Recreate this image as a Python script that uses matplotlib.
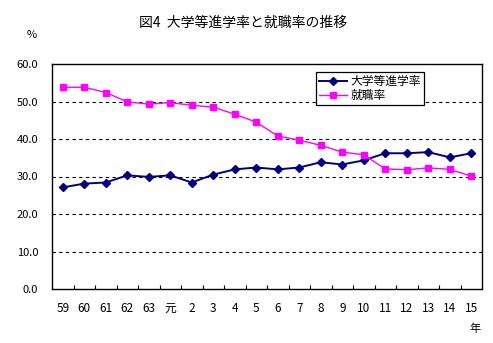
"""
図4 大学等進学率と就職率の推移 — line chart, two series, Excel-style look.
"""

import matplotlib
matplotlib.use('Agg')
import matplotlib.pyplot as plt
from matplotlib.ticker import FixedLocator

plt.rcParams['font.family'] = ['Noto Sans CJK JP', 'DejaVu Sans']

C_NAVY = '#000080'
C_MAGENTA = '#FF00FF'

# ── Data ────────────────────────────────────────────────────────────────────
years = ['59', '60', '61', '62', '63', '元', '2', '3', '4', '5',
         '6', '7', '8', '9', '10', '11', '12', '13', '14', '15']
shingaku = [27.1, 28.1, 28.4, 30.3, 29.9, 30.3, 28.4, 30.5, 31.9, 32.4,
            31.9, 32.4, 33.8, 33.2, 34.3, 36.2, 36.2, 36.5, 35.1, 36.2]
shushoku = [53.8, 53.8, 52.4, 49.9, 49.3, 49.7, 49.0, 48.5, 46.6, 44.5,
            40.8, 39.7, 38.3, 36.5, 35.8, 32.0, 31.8, 32.3, 31.9, 30.1]
labels = ['大学等進学率', '就職率']
yticks = [0, 10, 20, 30, 40, 50, 60]


def main():
    W, H = 493, 343
    fig = plt.figure(figsize=(W / 100, H / 100), dpi=100)
    fig.patch.set_facecolor('white')

    # plot area in pixels: x 52..482, y 64..289
    ax = fig.add_axes([52 / W, 1 - 289 / H, 430 / W, 225 / H])
    ax.set_facecolor('white')

    x = list(range(len(years)))
    ax.plot(x, shingaku, color=C_NAVY, lw=1.4, marker='D', ms=4.0,
            mfc=C_NAVY, mec=C_NAVY, label=labels[0], zorder=3)
    ax.plot(x, shushoku, color=C_MAGENTA, lw=1.0, marker='s', ms=4.3,
            mfc=C_MAGENTA, mec=C_MAGENTA, label=labels[1], zorder=3)

    ax.set_xlim(-0.5, len(years) - 0.5)
    ax.set_ylim(0, 60)

    # gridlines
    for yv in yticks[1:-1]:
        ax.axhline(yv, color='black', lw=0.8, ls=(0, (3, 3)), zorder=1)

    for sp in ax.spines.values():
        sp.set_color('black')
        sp.set_linewidth(1.0)

    # y axis
    ax.set_yticks(yticks)
    ax.set_yticklabels([f'{v:.1f}' for v in yticks])
    ax.tick_params(axis='y', length=0, pad=10, labelsize=8)

    # x axis: labels at categories, inward ticks between them
    ax.set_xticks(x)
    ax.set_xticklabels(years)
    ax.tick_params(axis='x', which='major', length=0, pad=9, labelsize=8.5)
    ax.xaxis.set_minor_locator(FixedLocator([i + 0.5 for i in x[:-1]]))
    ax.tick_params(axis='x', which='minor', direction='in', length=3,
                   width=0.8, color='black')

    # legend
    leg = ax.legend(loc='upper left',
                    bbox_to_anchor=(316 / W, 1 - 72 / H),
                    bbox_transform=fig.transFigure, borderaxespad=0,
                    fancybox=False, shadow=False, framealpha=1,
                    edgecolor='black', fontsize=8.5, handlelength=2.4,
                    borderpad=0.25, labelspacing=0.1, handletextpad=0.3)
    leg.get_frame().set_linewidth(0.9)

    # texts
    fig.text(243 / W, 1 - 23 / H, '図4  大学等進学率と就職率の推移',
             ha='center', va='center', fontsize=10)
    fig.text(32 / W, 1 - 35 / H, '%', ha='center', va='center', fontsize=8)
    fig.text(475 / W, 1 - 329 / H, '年', ha='center', va='center', fontsize=8)

    fig.savefig('out.png', dpi=100, facecolor='white')
    plt.close(fig)


if __name__ == '__main__':
    main()
